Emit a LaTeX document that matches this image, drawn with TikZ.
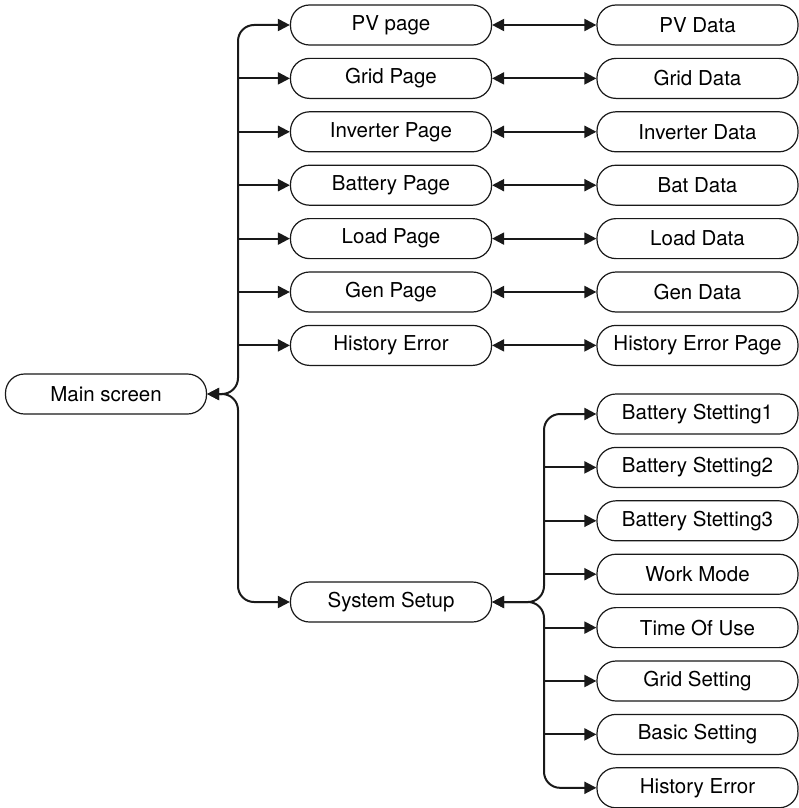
\documentclass[tikz,border=0pt]{standalone}
\usepackage{fontspec}
\setmainfont{TeX Gyre Heros}
\usetikzlibrary{arrows.meta,positioning}
\begin{document}
\begin{tikzpicture}[x=1pt,y=-1pt,
  box/.style={draw=black!90, line width=1.2pt, rounded corners=19pt, minimum width=201pt, minimum height=40pt, inner sep=0pt, font=\fontsize{20.5}{23}\selectfont},
  link/.style={line width=2pt, draw=black!90, -{Triangle[length=12pt,width=12pt]}},
  blink/.style={line width=2pt, draw=black!90, {Triangle[length=12pt,width=12pt]}-{Triangle[length=12pt,width=12pt]}},
  bus/.style={rounded corners=16pt}]
\useasboundingbox (0,0) rectangle (799,808);
% left column
\node[box] (main) at (106,394) {Main screen};
\node[box] (pv) at (391,25) {PV page};
\node[box] (grid) at (391,78.4) {Grid Page};
\node[box] (inv) at (391,131.8) {Inverter Page};
\node[box] (bat) at (391,185.2) {Battery Page};
\node[box] (load) at (391,238.6) {Load Page};
\node[box] (gen) at (391,292) {Gen Page};
\node[box] (hist) at (391,345.4) {History Error};
\node[box] (sys) at (391,602) {System Setup};
% right column
\node[box] (pvd) at (697.5,25) {PV Data};
\node[box] (gridd) at (697.5,78.4) {Grid Data};
\node[box] (invd) at (697.5,131.8) {Inverter Data};
\node[box] (batd) at (697.5,185.2) {Bat Data};
\node[box] (loadd) at (697.5,238.6) {Load Data};
\node[box] (gend) at (697.5,292) {Gen Data};
\node[box] (histd) at (697.5,345.4) {History Error Page};
\node[box] (bs1) at (697.5,414) {Battery Stetting1};
\node[box] (bs2) at (697.5,467.4) {Battery Stetting2};
\node[box] (bs3) at (697.5,520.8) {Battery Stetting3};
\node[box] (wm) at (697.5,574.2) {Work Mode};
\node[box] (tou) at (697.5,627.6) {Time Of Use};
\node[box] (gs) at (697.5,681) {Grid Setting};
\node[box] (bsc) at (697.5,734.4) {Basic Setting};
\node[box] (he2) at (697.5,787.8) {History Error};
% buses
\coordinate (busA) at (238,0);
\coordinate (busB) at (544,0);
\draw[blink,bus] (main.east) -| (busA |- pv.west) -- (pv.west);
\draw[blink,bus] (main.east) -| (busA |- sys.west) -- (sys.west);
\foreach \n in {grid,inv,bat,load,gen,hist}
  \draw[link] (busA |- \n.west) -- (\n.west);
\draw[blink,bus] (sys.east) -| (busB |- bs1.west) -- (bs1.west);
\draw[blink,bus] (sys.east) -| (busB |- he2.west) -- (he2.west);
\foreach \n in {bs2,bs3,wm,tou,gs,bsc}
  \draw[link] (busB |- \n.west) -- (\n.west);
% bidirectional
\foreach \a/\b in {pv/pvd,grid/gridd,inv/invd,bat/batd,load/loadd,gen/gend,hist/histd}
  \draw[blink] (\a.east) -- (\b.west);
\end{tikzpicture}
\end{document}
